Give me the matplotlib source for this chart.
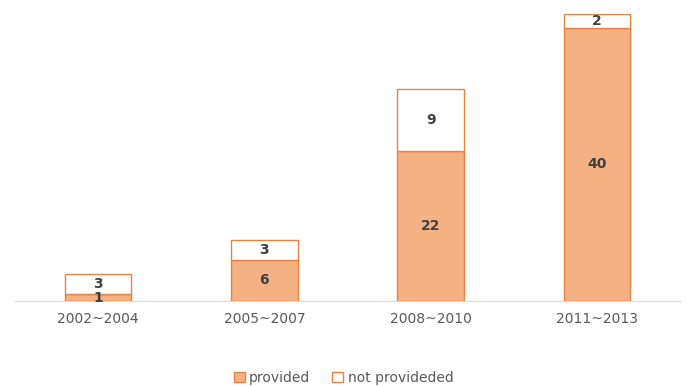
import matplotlib.pyplot as plt

periods = ["2002~2004", "2005~2007", "2008~2010", "2011~2013"]
provided = [1, 6, 22, 40]
not_provided = [3, 3, 9, 2]

FILL = "#F4B183"
EDGE = "#E9833F"
TEXT = "#404040"

fig = plt.figure(figsize=(6.87, 3.86), dpi=100)
ax = fig.add_axes([15 / 687, 85 / 386, 665 / 687, 287 / 386])

x = range(len(periods))
b1 = ax.bar(x, provided, width=0.4, color=FILL, edgecolor=EDGE, linewidth=1.0,
            label="provided")
b2 = ax.bar(x, not_provided, width=0.4, bottom=provided, color="white",
            edgecolor=EDGE, linewidth=1.0, label="not provideded")

for bars, vals in ((b1, provided), (b2, not_provided)):
    for rect, v in zip(bars, vals):
        ax.text(rect.get_x() + rect.get_width() / 2,
                rect.get_y() + rect.get_height() / 2,
                str(v), ha="center", va="center", fontsize=10,
                fontweight="bold", color=TEXT)

ax.set_xlim(-0.5, 3.5)
ax.set_ylim(0, 42)
ax.set_xticks(list(x))
ax.set_xticklabels(periods, fontsize=10, color="#595959")
ax.tick_params(axis="x", length=0, pad=8)
ax.set_yticks([])
for s in ["top", "right", "left"]:
    ax.spines[s].set_visible(False)
ax.spines["bottom"].set_color("#D9D9D9")

fig.legend(handles=[b1, b2], loc="center", bbox_to_anchor=(0.5, 8 / 386), ncol=2,
           frameon=False, fontsize=10, handlelength=0.8, handleheight=0.8,
           handletextpad=0.3, columnspacing=1.6, labelcolor="#595959")

fig.savefig("out.png", dpi=100)
